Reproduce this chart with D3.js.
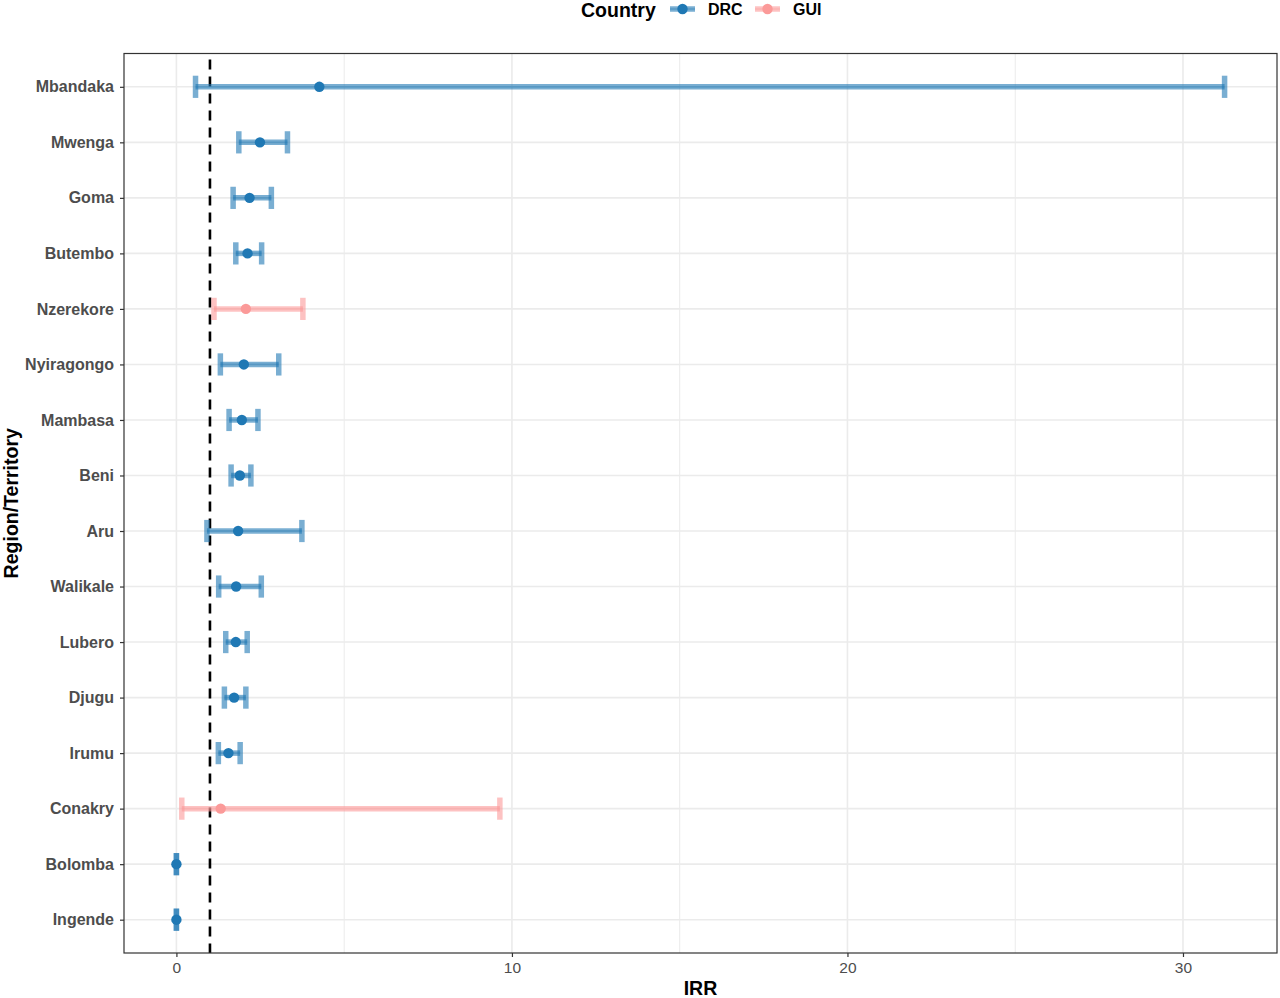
<!DOCTYPE html>
<html>
<head>
<meta charset="utf-8">
<script src="https://cdn.jsdelivr.net/npm/d3@7"></script>
<style>
  body { margin: 0; background: #fff; }
  svg { display: block; font-family: "Liberation Sans", Arial, sans-serif; }
</style>
</head>
<body>
<svg id="chart" width="1280" height="998"></svg>
<script>
// regions, top to bottom
const regions = ["Mbandaka", "Mwenga", "Goma", "Butembo", "Nzerekore", "Nyiragongo", "Mambasa",
  "Beni", "Aru", "Walikale", "Lubero", "Djugu", "Irumu", "Conakry", "Bolomba", "Ingende"];
const countries = ["DRC", "DRC", "DRC", "DRC", "GUI", "DRC", "DRC",
  "DRC", "DRC", "DRC", "DRC", "DRC", "DRC", "GUI", "DRC", "DRC"];
const irr   = [4.26, 2.49, 2.18, 2.12, 2.07, 2.01, 1.95, 1.89, 1.84, 1.78, 1.77, 1.72, 1.55, 1.32, 0, 0];
const lower = [0.57, 1.86, 1.69, 1.77, 1.12, 1.31, 1.57, 1.63, 0.91, 1.26, 1.47, 1.43, 1.25, 0.16, 0, 0];
const upper = [31.24, 3.31, 2.83, 2.54, 3.77, 3.05, 2.43, 2.22, 3.74, 2.53, 2.11, 2.07, 1.90, 9.64, 0, 0];
const xTicks = [0, 10, 20, 30];
const xMinor = [5, 15, 25];
const refLine = 1;

const countryColor = { DRC: "#1F78B4", GUI: "#FB9A99" };

const rows = regions.map((r, i) => ({
  region: r, country: countries[i], irr: irr[i], lo: lower[i], hi: upper[i]
}));

const svg = d3.select("#chart");
const panel = { left: 124, right: 1277, top: 53.5, bottom: 953 };

// ggplot-style 5% expansion
const lo = d3.min(lower), hi = d3.max(upper);
const pad = (hi - lo) * 0.05;
const x = d3.scaleLinear().domain([lo - pad, hi + pad]).range([panel.left, panel.right]);

const y = d3.scalePoint().domain(regions)
  .range([panel.top, panel.bottom]).padding(0.6);

const capH = y.step() * 0.4;

// grid
const grid = svg.append("g");
grid.selectAll(".vminor").data(xMinor).enter().append("line")
  .attr("x1", d => x(d)).attr("x2", d => x(d))
  .attr("y1", panel.top).attr("y2", panel.bottom)
  .attr("stroke", "#ebebeb").attr("stroke-width", 1);
grid.selectAll(".vmajor").data(xTicks).enter().append("line")
  .attr("x1", d => x(d)).attr("x2", d => x(d))
  .attr("y1", panel.top).attr("y2", panel.bottom)
  .attr("stroke", "#ebebeb").attr("stroke-width", 1.6);
grid.selectAll(".hmajor").data(regions).enter().append("line")
  .attr("x1", panel.left).attr("x2", panel.right)
  .attr("y1", d => y(d)).attr("y2", d => y(d))
  .attr("stroke", "#ebebeb").attr("stroke-width", 1.6);

// reference line at IRR = 1
svg.append("line")
  .attr("x1", x(refLine)).attr("x2", x(refLine))
  .attr("y1", panel.top).attr("y2", panel.bottom)
  .attr("stroke", "#000").attr("stroke-width", 2.6)
  .attr("stroke-dasharray", "10,7").attr("stroke-dashoffset", -6);

// error bars
const bars = svg.append("g").selectAll("g").data(rows).enter().append("g")
  .attr("transform", d => `translate(0,${y(d.region)})`);

bars.append("line")
  .attr("x1", d => x(d.lo)).attr("x2", d => x(d.hi))
  .attr("stroke", d => countryColor[d.country]).attr("stroke-width", 5.5)
  .attr("stroke-opacity", 0.6);
bars.append("line")
  .attr("x1", d => x(d.lo)).attr("x2", d => x(d.hi))
  .attr("stroke", d => countryColor[d.country]).attr("stroke-width", 1.8)
  .attr("stroke-opacity", 0.3);
["lo", "hi"].forEach(k => {
  bars.append("line")
    .attr("x1", d => x(d[k])).attr("x2", d => x(d[k]))
    .attr("y1", -capH / 2).attr("y2", capH / 2)
    .attr("stroke", d => countryColor[d.country]).attr("stroke-width", 5.5)
    .attr("stroke-opacity", 0.6);
});
bars.append("circle")
  .attr("cx", d => x(d.irr)).attr("r", 5.2)
  .attr("fill", d => countryColor[d.country]);

// panel border
svg.append("rect")
  .attr("x", panel.left).attr("y", panel.top)
  .attr("width", panel.right - panel.left).attr("height", panel.bottom - panel.top)
  .attr("fill", "none").attr("stroke", "#333").attr("stroke-width", 1.2);

// axes
const xAxis = svg.append("g")
  .attr("transform", `translate(0,${panel.bottom})`)
  .call(d3.axisBottom(x).tickValues(xTicks).tickSize(4).tickPadding(5).tickFormat(d3.format("d")));
xAxis.select(".domain").remove();
xAxis.selectAll("line").attr("stroke", "#333").attr("stroke-width", 1.2);
xAxis.selectAll("text").attr("fill", "#4d4d4d").style("font-size", "15.5px")
  .style("font-family", "Liberation Sans, Arial, sans-serif");

const yAxis = svg.append("g")
  .attr("transform", `translate(${panel.left},0)`)
  .call(d3.axisLeft(y).tickSize(4).tickPadding(6));
yAxis.select(".domain").remove();
yAxis.selectAll("line").attr("stroke", "#333").attr("stroke-width", 1.2);
yAxis.selectAll("text").attr("fill", "#4d4d4d").style("font-size", "16px")
  .style("font-weight", "bold")
  .style("font-family", "Liberation Sans, Arial, sans-serif");

// axis titles
svg.append("text")
  .attr("x", (panel.left + panel.right) / 2).attr("y", 995)
  .attr("text-anchor", "middle").attr("font-size", 19.5).attr("font-weight", "bold")
  .text("IRR");
svg.append("text")
  .attr("transform", `translate(18,${(panel.top + panel.bottom) / 2}) rotate(-90)`)
  .attr("text-anchor", "middle").attr("font-size", 19.5).attr("font-weight", "bold")
  .text("Region/Territory");

// legend
const legend = svg.append("g").attr("transform", "translate(0,9)");
legend.append("text").attr("x", 581).attr("y", 8)
  .attr("font-size", 19.5).attr("font-weight", "bold").text("Country");
const legendItems = [{ name: "DRC", x: 670 }, { name: "GUI", x: 755 }];
legendItems.forEach(it => {
  const g = legend.append("g").attr("transform", `translate(${it.x},0)`);
  g.append("line").attr("x1", 0).attr("x2", 25)
    .attr("stroke", countryColor[it.name]).attr("stroke-width", 5.5).attr("stroke-opacity", 0.6);
  g.append("line").attr("x1", 0).attr("x2", 25)
    .attr("stroke", countryColor[it.name]).attr("stroke-width", 1.8).attr("stroke-opacity", 0.3);
  g.append("circle").attr("cx", 12.5).attr("r", 5.2).attr("fill", countryColor[it.name]);
  g.append("text").attr("x", 38).attr("y", 6)
    .attr("font-size", 16).attr("font-weight", "bold").text(it.name);
});
</script>
</body>
</html>
